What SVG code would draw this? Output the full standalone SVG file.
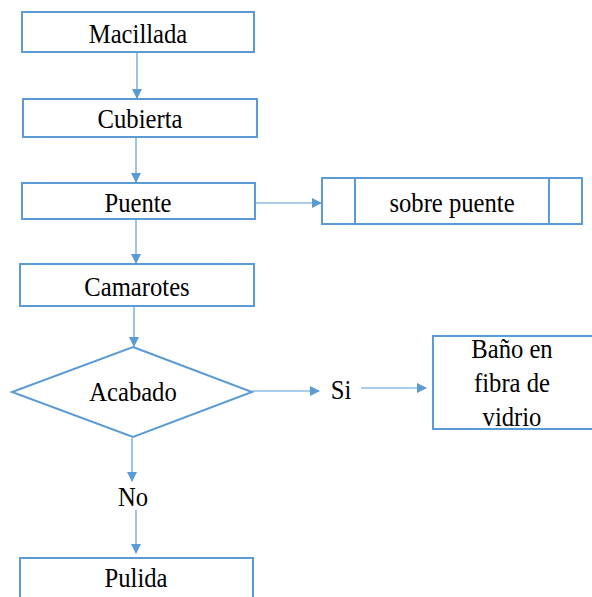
<svg xmlns="http://www.w3.org/2000/svg" width="592" height="597" viewBox="0 0 592 597">
<style>
.box{fill:#fff;stroke:#5B9BD5;stroke-width:2}
.con{stroke:#5B9BD5;stroke-width:1.2;fill:none}
text{font-family:"Liberation Serif","Times New Roman",serif;font-size:28px;fill:#000;text-anchor:middle}
</style>
<defs>
<marker id="ah" markerWidth="10" markerHeight="10" refX="9" refY="5" orient="auto" markerUnits="userSpaceOnUse">
<path d="M0,0 L10,5 L0,10 Z" fill="#5B9BD5"/>
</marker>
</defs>
<rect width="592" height="597" fill="#fff"/>
<g id="connectors">
<line class="con" x1="137" y1="53" x2="137" y2="98" marker-end="url(#ah)"/>
<line class="con" x1="136" y1="138" x2="136" y2="182" marker-end="url(#ah)"/>
<line class="con" x1="136" y1="220" x2="136" y2="263" marker-end="url(#ah)"/>
<line class="con" x1="256" y1="203" x2="321" y2="203" marker-end="url(#ah)"/>
<line class="con" x1="134" y1="306" x2="134" y2="346" marker-end="url(#ah)"/>
<line class="con" x1="252" y1="391" x2="319" y2="391" marker-end="url(#ah)"/>
<line class="con" x1="361" y1="388" x2="426" y2="388" marker-end="url(#ah)"/>
<line class="con" x1="132" y1="438" x2="132" y2="481" marker-end="url(#ah)"/>
<line class="con" x1="136" y1="510" x2="136" y2="553" marker-end="url(#ah)"/>
</g>
<g id="macillada"><rect class="box" x="22" y="12" width="232" height="40"/><text transform="matrix(0.88 0 0 1 138 43)">Macillada</text></g>
<g id="cubierta"><rect class="box" x="23" y="99" width="234" height="38"/><text transform="matrix(0.88 0 0 1 140 128)">Cubierta</text></g>
<g id="puente"><rect class="box" x="22" y="183" width="233" height="36"/><text transform="matrix(0.88 0 0 1 138 212)">Puente</text></g>
<g id="sobre-puente"><rect class="box" x="322" y="178" width="260" height="46"/><line class="box" x1="355" y1="178" x2="355" y2="224"/><line class="box" x1="549" y1="178" x2="549" y2="224"/><text transform="matrix(0.88 0 0 1 452 212)">sobre puente</text></g>
<g id="camarotes"><rect class="box" x="20" y="264" width="234" height="42"/><text transform="matrix(0.88 0 0 1 137 296)">Camarotes</text></g>
<g id="acabado"><polygon class="box" points="133,347 252,392 133,437 12,392"/><text transform="matrix(0.88 0 0 1 133 401)">Acabado</text></g>
<g id="si"><text transform="matrix(0.88 0 0 1 341 399)">Si</text></g>
<g id="bano"><rect class="box" x="433" y="336" width="170" height="93"/><text transform="matrix(0.88 0 0 1 512 358)">Baño en</text><text transform="matrix(0.88 0 0 1 512 392)">fibra de</text><text transform="matrix(0.88 0 0 1 512 426)">vidrio</text></g>
<g id="no"><text transform="matrix(0.88 0 0 1 133 506)">No</text></g>
<g id="pulida"><rect class="box" x="20" y="558" width="233" height="50"/><text transform="matrix(0.88 0 0 1 136 587)">Pulida</text></g>
</svg>
